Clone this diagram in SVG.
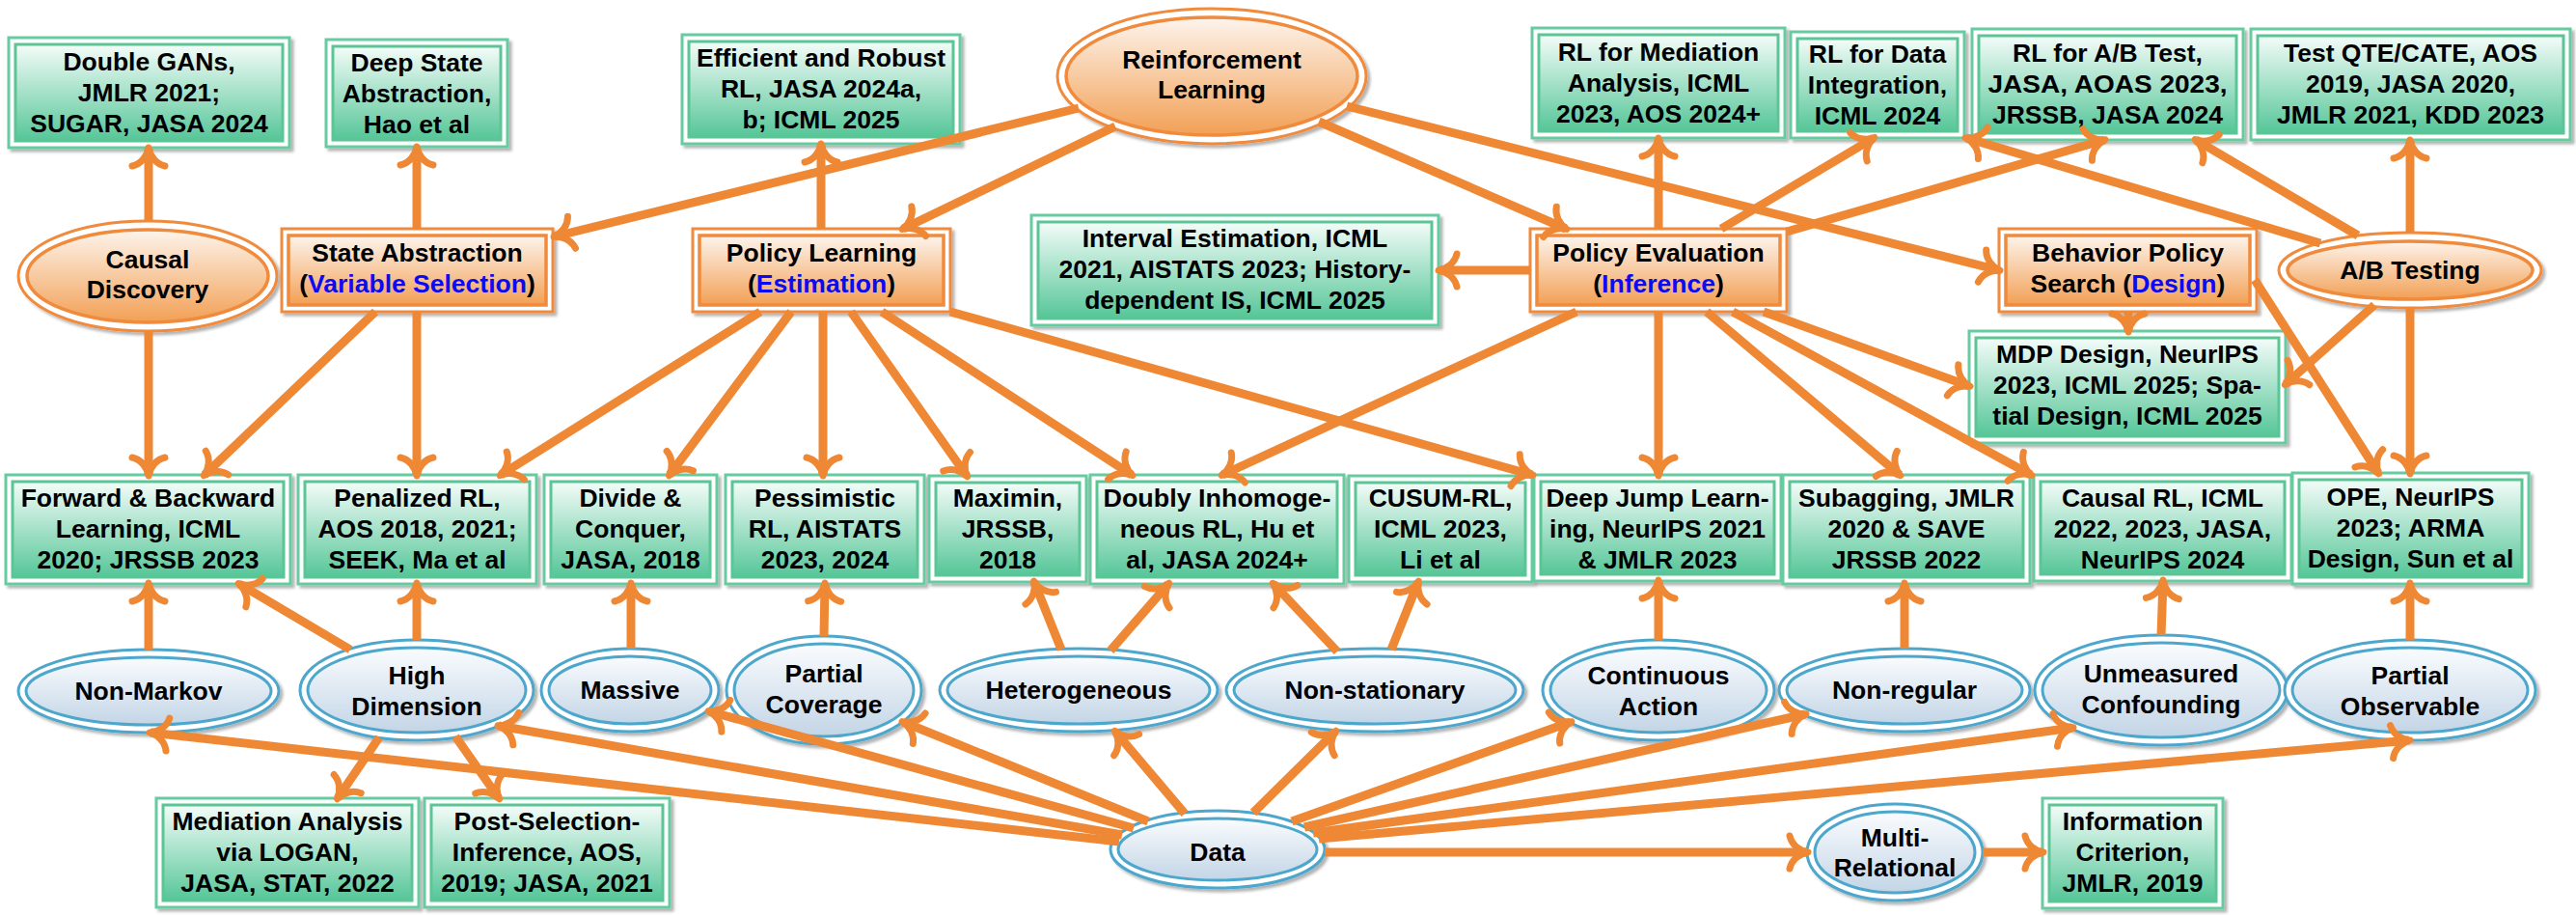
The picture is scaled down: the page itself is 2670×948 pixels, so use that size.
<svg xmlns="http://www.w3.org/2000/svg" width="2670" height="948" viewBox="0 0 2670 948">
<defs>
<linearGradient id="gG" x1="0" y1="0" x2="0" y2="1"><stop offset="0" stop-color="#f4fcf9"/><stop offset="1" stop-color="#55c698"/></linearGradient>
<linearGradient id="gO" x1="0" y1="0" x2="0" y2="1"><stop offset="0" stop-color="#fdf4ec"/><stop offset="1" stop-color="#f2a055"/></linearGradient>
<linearGradient id="gB" x1="0" y1="0" x2="0" y2="1"><stop offset="0" stop-color="#fafcfe"/><stop offset="1" stop-color="#c3d5e6"/></linearGradient>
<filter id="sh" x="-5%" y="-5%" width="115%" height="125%"><feDropShadow dx="3" dy="3" stdDeviation="1.5" flood-color="#000" flood-opacity="0.3"/></filter>
<marker id="ah" viewBox="-30 -30 60 60" markerWidth="60" markerHeight="60" markerUnits="userSpaceOnUse" refX="0" refY="0" orient="auto">
<path d="M-18,-17 C-16,-8 -8,-1.5 1,0 C-8,1.5 -16,8 -18,17" fill="none" stroke="#ef8834" stroke-width="7" stroke-linecap="round" stroke-linejoin="round"/>
</marker>
<style>
text{font-family:"Liberation Sans",Arial,sans-serif;font-weight:700;font-size:26.5px;text-anchor:middle;fill:#000}
.bl{fill:#0a0af5}
.go{fill:#fff;stroke:#66cc9f;stroke-width:3;filter:url(#sh)}
.gi{fill:url(#gG);stroke:#5cc596;stroke-width:3}
.oo{fill:#fff;stroke:#f08a3c;stroke-width:3;filter:url(#sh)}
.oi{fill:url(#gO);stroke:#f08a3c;stroke-width:3.5}
.bo{fill:#fff;stroke:#4da7cc;stroke-width:3;filter:url(#sh)}
.bi{fill:url(#gB);stroke:#4da7cc;stroke-width:3}
.c{fill:none;stroke:#ef8834;stroke-width:9;marker-end:url(#ah)}
</style>
</defs>
<rect width="2670" height="948" fill="#fff"/>

<!-- Top row green boxes -->
<g id="n-double-gans"><rect class="go" x="9" y="39" width="291" height="114"/><rect class="gi" x="16" y="46" width="277" height="100"/>
<text x="154.5" y="73">Double GANs,</text><text x="154.5" y="105">JMLR 2021;</text><text x="154.5" y="137">SUGAR, JASA 2024</text></g>
<g id="n-deep-state"><rect class="go" x="338" y="41" width="188" height="111"/><rect class="gi" x="345" y="48" width="174" height="97"/>
<text x="432" y="74">Deep State</text><text x="432" y="106">Abstraction,</text><text x="432" y="138">Hao et al</text></g>
<g id="n-efficient"><rect class="go" x="707" y="36" width="288" height="113"/><rect class="gi" x="714" y="43" width="274" height="99"/>
<text x="851" y="69" textLength="258" lengthAdjust="spacingAndGlyphs">Efficient and Robust</text><text x="851" y="101">RL, JASA 2024a,</text><text x="851" y="133">b; ICML 2025</text></g>
<g id="n-rl-mediation"><rect class="go" x="1588" y="29" width="262" height="114"/><rect class="gi" x="1595" y="36" width="248" height="100"/>
<text x="1719" y="63">RL for Mediation</text><text x="1719" y="95">Analysis, ICML</text><text x="1719" y="127">2023, AOS 2024+</text></g>
<g id="n-rl-data-integration"><rect class="go" x="1856" y="33" width="180" height="110"/><rect class="gi" x="1863" y="40" width="166" height="96"/>
<text x="1946" y="65">RL for Data</text><text x="1946" y="97">Integration,</text><text x="1946" y="129">ICML 2024</text></g>
<g id="n-rl-ab-test"><rect class="go" x="2044" y="30" width="281" height="115"/><rect class="gi" x="2051" y="37" width="267" height="101"/>
<text x="2184.5" y="64">RL for A/B Test,</text><text x="2184.5" y="96" textLength="248" lengthAdjust="spacingAndGlyphs">JASA, AOAS 2023,</text><text x="2184.5" y="128">JRSSB, JASA 2024</text></g>
<g id="n-test-qte"><rect class="go" x="2333" y="30" width="331" height="115"/><rect class="gi" x="2340" y="37" width="317" height="101"/>
<text x="2498.5" y="64">Test QTE/CATE, AOS</text><text x="2498.5" y="96">2019, JASA 2020,</text><text x="2498.5" y="128">JMLR 2021, KDD 2023</text></g>

<!-- Orange ellipses -->
<g id="n-rl"><ellipse class="oo" cx="1256" cy="79" rx="160" ry="70"/><ellipse class="oi" cx="1256" cy="79" rx="151" ry="61"/>
<text x="1256" y="71">Reinforcement</text><text x="1256" y="102">Learning</text></g>
<g id="n-causal-discovery"><ellipse class="oo" cx="153" cy="286" rx="134" ry="57"/><ellipse class="oi" cx="153" cy="286" rx="125" ry="48"/>
<text x="153" y="278">Causal</text><text x="153" y="309">Discovery</text></g>
<g id="n-ab-testing"><ellipse class="oo" cx="2498" cy="280" rx="136" ry="39"/><ellipse class="oi" cx="2498" cy="280" rx="127" ry="30"/>
<text x="2498" y="289">A/B Testing</text></g>

<!-- Orange boxes -->
<g id="n-state-abstraction"><rect class="oo" x="292" y="237" width="281" height="86"/><rect class="oi" x="299" y="244" width="267" height="72"/>
<text x="432.5" y="271">State Abstraction</text><text x="432.5" y="303">(<tspan class="bl">Variable Selection</tspan>)</text></g>
<g id="n-policy-learning"><rect class="oo" x="718" y="237" width="267" height="86"/><rect class="oi" x="725" y="244" width="253" height="72"/>
<text x="851.5" y="271">Policy Learning</text><text x="851.5" y="303">(<tspan class="bl">Estimation</tspan>)</text></g>
<g id="n-policy-evaluation"><rect class="oo" x="1586" y="237" width="266" height="86"/><rect class="oi" x="1593" y="244" width="252" height="72"/>
<text x="1719" y="271">Policy Evaluation</text><text x="1719" y="303">(<tspan class="bl">Inference</tspan>)</text></g>
<g id="n-behavior"><rect class="oo" x="2072" y="237" width="267" height="86"/><rect class="oi" x="2079" y="244" width="253" height="72"/>
<text x="2205.5" y="271">Behavior Policy</text><text x="2205.5" y="303">Search (<tspan class="bl">Design</tspan>)</text></g>

<!-- Middle green boxes -->
<g id="n-interval"><rect class="go" x="1069" y="223" width="422" height="114"/><rect class="gi" x="1076" y="230" width="408" height="100"/>
<text x="1280" y="256">Interval Estimation, ICML</text><text x="1280" y="288">2021, AISTATS 2023; History-</text><text x="1280" y="320">dependent IS, ICML 2025</text></g>
<g id="n-mdp-design"><rect class="go" x="2041" y="343" width="328" height="116"/><rect class="gi" x="2048" y="350" width="314" height="102"/>
<text x="2205" y="376">MDP Design, NeurIPS</text><text x="2205" y="408">2023, ICML 2025; Spa-</text><text x="2205" y="440">tial Design, ICML 2025</text></g>

<!-- Lower green boxes -->
<g id="n-forward"><rect class="go" x="6" y="492" width="295" height="113"/><rect class="gi" x="13" y="499" width="281" height="99"/>
<text x="153.5" y="525">Forward &amp; Backward</text><text x="153.5" y="557">Learning, ICML</text><text x="153.5" y="589">2020; JRSSB 2023</text></g>
<g id="n-penalized"><rect class="go" x="309" y="492" width="247" height="113"/><rect class="gi" x="316" y="499" width="233" height="99"/>
<text x="432.5" y="525">Penalized RL,</text><text x="432.5" y="557">AOS 2018, 2021;</text><text x="432.5" y="589">SEEK, Ma et al</text></g>
<g id="n-divide"><rect class="go" x="564" y="492" width="179" height="113"/><rect class="gi" x="571" y="499" width="165" height="99"/>
<text x="653.5" y="525">Divide &amp;</text><text x="653.5" y="557">Conquer,</text><text x="653.5" y="589">JASA, 2018</text></g>
<g id="n-pessimistic"><rect class="go" x="752" y="492" width="206" height="113"/><rect class="gi" x="759" y="499" width="192" height="99"/>
<text x="855" y="525">Pessimistic</text><text x="855" y="557">RL, AISTATS</text><text x="855" y="589">2023, 2024</text></g>
<g id="n-maximin"><rect class="go" x="963" y="493" width="163" height="110"/><rect class="gi" x="970" y="500" width="149" height="96"/>
<text x="1044.5" y="525">Maximin,</text><text x="1044.5" y="557">JRSSB,</text><text x="1044.5" y="589">2018</text></g>
<g id="n-doubly"><rect class="go" x="1130" y="492" width="263" height="113"/><rect class="gi" x="1137" y="499" width="249" height="99"/>
<text x="1261.5" y="525" textLength="236" lengthAdjust="spacingAndGlyphs">Doubly Inhomoge-</text><text x="1261.5" y="557">neous RL, Hu et</text><text x="1261.5" y="589">al, JASA 2024+</text></g>
<g id="n-cusum"><rect class="go" x="1398" y="493" width="190" height="110"/><rect class="gi" x="1405" y="500" width="176" height="96"/>
<text x="1493" y="525">CUSUM-RL,</text><text x="1493" y="557">ICML 2023,</text><text x="1493" y="589">Li et al</text></g>
<g id="n-deep-jump"><rect class="go" x="1590" y="492" width="256" height="110"/><rect class="gi" x="1597" y="499" width="242" height="96"/>
<text x="1718" y="525">Deep Jump Learn-</text><text x="1718" y="557">ing, NeurIPS 2021</text><text x="1718" y="589">&amp; JMLR 2023</text></g>
<g id="n-subagging"><rect class="go" x="1848" y="492" width="256" height="113"/><rect class="gi" x="1855" y="499" width="242" height="99"/>
<text x="1976" y="525">Subagging, JMLR</text><text x="1976" y="557">2020 &amp; SAVE</text><text x="1976" y="589">JRSSB 2022</text></g>
<g id="n-causal-rl"><rect class="go" x="2108" y="492" width="267" height="110"/><rect class="gi" x="2115" y="499" width="253" height="96"/>
<text x="2241.5" y="525">Causal RL, ICML</text><text x="2241.5" y="557">2022, 2023, JASA,</text><text x="2241.5" y="589">NeurIPS 2024</text></g>
<g id="n-ope"><rect class="go" x="2376" y="490" width="245" height="115"/><rect class="gi" x="2383" y="497" width="231" height="101"/>
<text x="2498.5" y="524">OPE, NeurIPS</text><text x="2498.5" y="556">2023; ARMA</text><text x="2498.5" y="588">Design, Sun et al</text></g>

<!-- Blue ellipses -->
<g id="n-non-markov"><ellipse class="bo" cx="154" cy="716" rx="135" ry="43"/><ellipse class="bi" cx="154" cy="716" rx="127" ry="35"/><text x="154" y="725">Non-Markov</text></g>
<g id="n-high-dimension"><ellipse class="bo" cx="432" cy="715" rx="121" ry="52"/><ellipse class="bi" cx="432" cy="715" rx="113" ry="44"/><text x="432" y="709">High</text><text x="432" y="741">Dimension</text></g>
<g id="n-massive"><ellipse class="bo" cx="653" cy="715" rx="92" ry="43"/><ellipse class="bi" cx="653" cy="715" rx="84" ry="35"/><text x="653" y="724">Massive</text></g>
<g id="n-partial-coverage"><ellipse class="bo" cx="854" cy="715" rx="101" ry="56"/><ellipse class="bi" cx="854" cy="715" rx="93" ry="48"/><text x="854" y="707">Partial</text><text x="854" y="739">Coverage</text></g>
<g id="n-heterogeneous"><ellipse class="bo" cx="1118" cy="715" rx="144" ry="43"/><ellipse class="bi" cx="1118" cy="715" rx="136" ry="35"/><text x="1118" y="724">Heterogeneous</text></g>
<g id="n-non-stationary"><ellipse class="bo" cx="1425" cy="715" rx="154" ry="43"/><ellipse class="bi" cx="1425" cy="715" rx="146" ry="35"/><text x="1425" y="724">Non-stationary</text></g>
<g id="n-continuous-action"><ellipse class="bo" cx="1719" cy="715" rx="120" ry="52"/><ellipse class="bi" cx="1719" cy="715" rx="112" ry="44"/><text x="1719" y="709">Continuous</text><text x="1719" y="741">Action</text></g>
<g id="n-non-regular"><ellipse class="bo" cx="1974" cy="715" rx="130" ry="43"/><ellipse class="bi" cx="1974" cy="715" rx="122" ry="35"/><text x="1974" y="724">Non-regular</text></g>
<g id="n-unmeasured"><ellipse class="bo" cx="2240" cy="715" rx="131" ry="57"/><ellipse class="bi" cx="2240" cy="715" rx="123" ry="49"/><text x="2240" y="707">Unmeasured</text><text x="2240" y="739">Confounding</text></g>
<g id="n-partial-observable"><ellipse class="bo" cx="2498" cy="715" rx="130" ry="52"/><ellipse class="bi" cx="2498" cy="715" rx="122" ry="44"/><text x="2498" y="709">Partial</text><text x="2498" y="741">Observable</text></g>
<g id="n-data"><ellipse class="bo" cx="1262" cy="880" rx="111" ry="40"/><ellipse class="bi" cx="1262" cy="880" rx="103" ry="32"/><text x="1262" y="892">Data</text></g>
<g id="n-multi-relational"><ellipse class="bo" cx="1964" cy="883" rx="91" ry="50"/><ellipse class="bi" cx="1964" cy="883" rx="83" ry="42"/><text x="1964" y="877">Multi-</text><text x="1964" y="908">Relational</text></g>

<!-- Bottom green boxes -->
<g id="n-mediation-logan"><rect class="go" x="162" y="827" width="272" height="113"/><rect class="gi" x="169" y="834" width="258" height="99"/>
<text x="298" y="860">Mediation Analysis</text><text x="298" y="892">via LOGAN,</text><text x="298" y="924">JASA, STAT, 2022</text></g>
<g id="n-post-selection"><rect class="go" x="440" y="827" width="254" height="113"/><rect class="gi" x="447" y="834" width="240" height="99"/>
<text x="567" y="860">Post-Selection-</text><text x="567" y="892">Inference, AOS,</text><text x="567" y="924">2019; JASA, 2021</text></g>
<g id="n-information-criterion"><rect class="go" x="2117" y="827" width="187" height="114"/><rect class="gi" x="2124" y="834" width="173" height="100"/>
<text x="2210.5" y="860">Information</text><text x="2210.5" y="892">Criterion,</text><text x="2210.5" y="924">JMLR, 2019</text></g>

<!-- Connectors -->
<g id="connectors">
<path class="c" d="M1118,112 L575,245"/>
<path class="c" d="M1156,131 L936,237"/>
<path class="c" d="M1367,126 L1623,237"/>
<path class="c" d="M1396,110 L2072,280"/>
<path class="c" d="M851,237 L851,150"/>
<path class="c" d="M788,323 L519,492"/>
<path class="c" d="M820,323 L694,492"/>
<path class="c" d="M853,323 L853,492"/>
<path class="c" d="M882,323 L1002,493"/>
<path class="c" d="M914,323 L1173,492"/>
<path class="c" d="M985,323 L1588,492"/>
<path class="c" d="M432,237 L432,153"/>
<path class="c" d="M389,323 L212,492"/>
<path class="c" d="M432,323 L432,492"/>
<path class="c" d="M154,229 L154,154"/>
<path class="c" d="M154,343 L154,492"/>
<path class="c" d="M1719,237 L1719,144"/>
<path class="c" d="M1784,237 L1942,143"/>
<path class="c" d="M1852,240 L2181,145"/>
<path class="c" d="M1586,280 L1492,280"/>
<path class="c" d="M1634,323 L1267,492"/>
<path class="c" d="M1719,323 L1719,492"/>
<path class="c" d="M1769,323 L1969,492"/>
<path class="c" d="M1796,323 L2105,492"/>
<path class="c" d="M1828,323 L2041,400"/>
<path class="c" d="M2206,323 L2206,343"/>
<path class="c" d="M2337,290 L2465,490"/>
<path class="c" d="M2498,241 L2498,146"/>
<path class="c" d="M2444,244 L2276,145"/>
<path class="c" d="M2405,252 L2038,143"/>
<path class="c" d="M2461,316 L2369,398"/>
<path class="c" d="M2498,319 L2498,490"/>
<path class="c" d="M1160,872 L156,759"/>
<path class="c" d="M1163,865 L517,752"/>
<path class="c" d="M1175,858 L735,737"/>
<path class="c" d="M1190,851 L936,748"/>
<path class="c" d="M1228,843 L1156,758"/>
<path class="c" d="M1299,842 L1384,758"/>
<path class="c" d="M1339,851 L1628,748"/>
<path class="c" d="M1352,857 L1871,740"/>
<path class="c" d="M1361,863 L2148,754"/>
<path class="c" d="M1367,869 L2497,767"/>
<path class="c" d="M1373,883 L1873,883"/>
<path class="c" d="M2055,883 L2117,883"/>
<path class="c" d="M154,673 L154,605"/>
<path class="c" d="M363,673 L248,605"/>
<path class="c" d="M432,663 L432,605"/>
<path class="c" d="M393,764 L350,827"/>
<path class="c" d="M472,763 L517,827"/>
<path class="c" d="M654,672 L654,605"/>
<path class="c" d="M854,659 L855,605"/>
<path class="c" d="M1100,673 L1072,603"/>
<path class="c" d="M1151,674 L1211,605"/>
<path class="c" d="M1386,675 L1320,605"/>
<path class="c" d="M1442,673 L1470,603"/>
<path class="c" d="M1719,663 L1719,602"/>
<path class="c" d="M1974,672 L1974,605"/>
<path class="c" d="M2240,658 L2242,602"/>
<path class="c" d="M2498,663 L2498,605"/>
</g>
</svg>
